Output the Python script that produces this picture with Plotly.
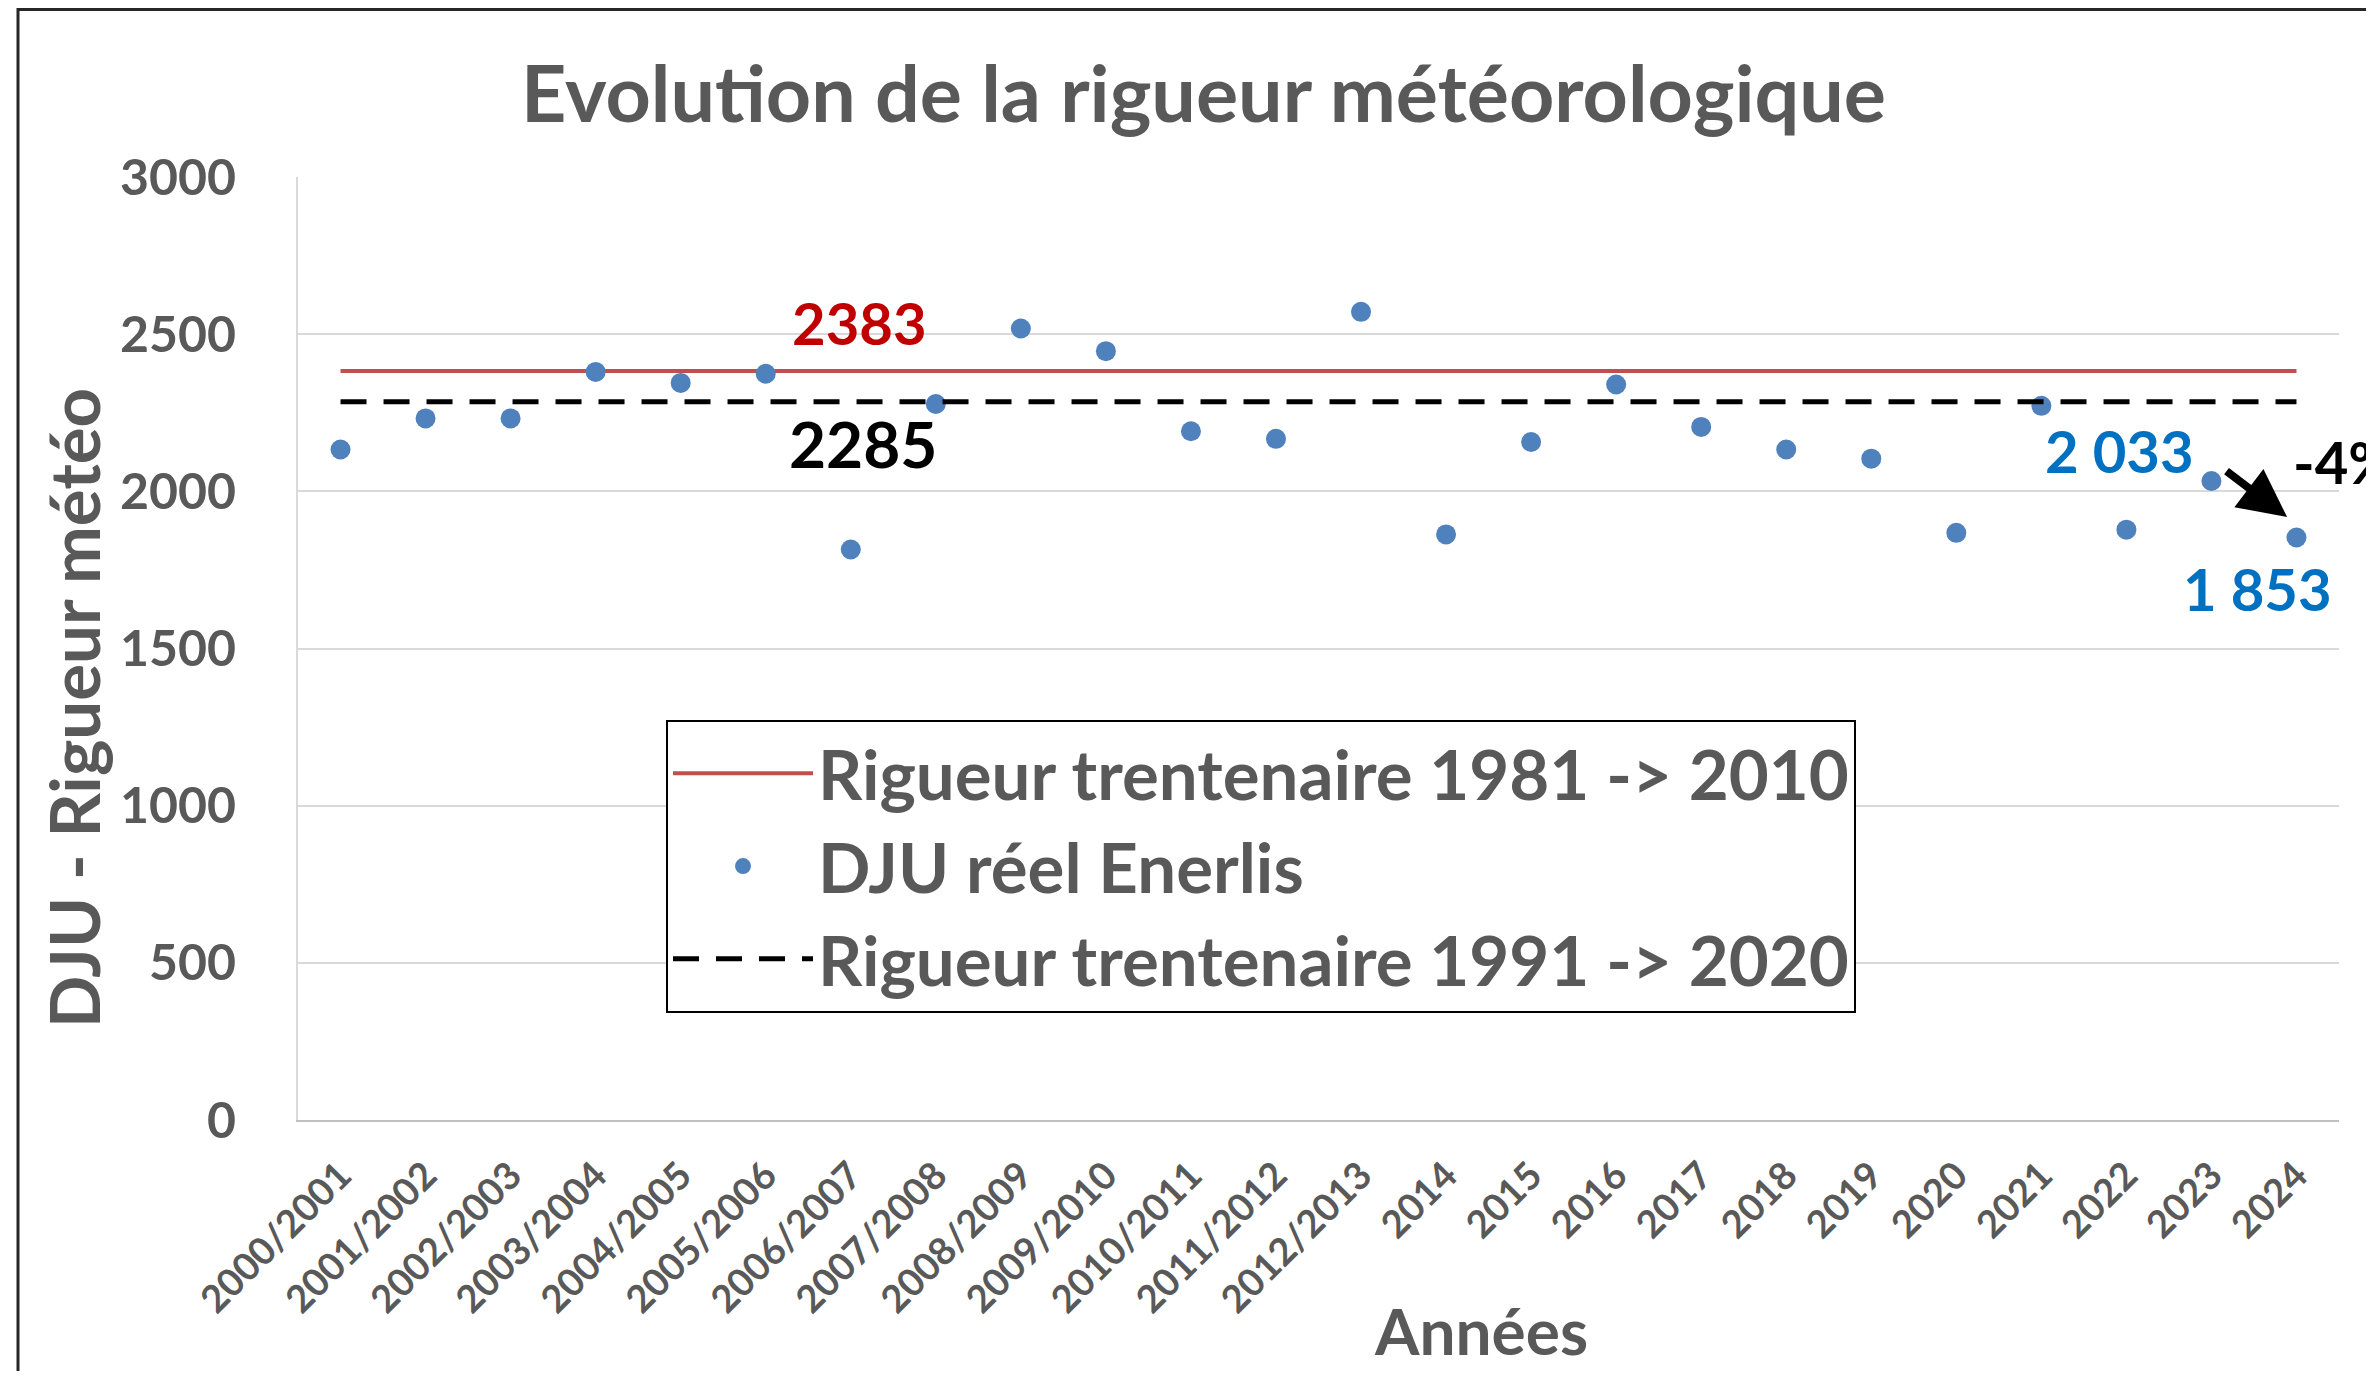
import plotly.graph_objects as go

# ---- data ----
categories = ["2000/2001", "2001/2002", "2002/2003", "2003/2004", "2004/2005", "2005/2006",
              "2006/2007", "2007/2008", "2008/2009", "2009/2010", "2010/2011", "2011/2012",
              "2012/2013", "2014", "2015", "2016", "2017", "2018", "2019", "2020", "2021",
              "2022", "2023", "2024"]
dju_reel = [2133, 2232, 2232, 2380, 2345, 2374, 1815, 2278, 2518, 2446, 2191, 2167,
            2571, 1863, 2157, 2340, 2205, 2133, 2104, 1868, 2272, 1878, 2033, 1853]
ref_1981_2010 = 2383
ref_1991_2020 = 2285
y_ticks = [0, 500, 1000, 1500, 2000, 2500, 3000]
label_2023 = "2 033"
label_2024 = "1 853"
variation = "-4%"

GREY = "#595959"
FONT = "Lato"
W, H = 2358, 1363
L, R, T, B = 290, 27, 169, 251

fig = go.Figure()
fig.add_trace(go.Scatter(
    x=categories, y=[ref_1981_2010] * len(categories), mode="lines",
    name="Rigueur trentenaire 1981 -> 2010",
    line=dict(color="#c0504d", width=4)))
fig.add_trace(go.Scatter(
    x=categories, y=dju_reel, mode="markers", name="DJU réel Enerlis",
    marker=dict(color="#4f81bd", size=20)))
fig.add_trace(go.Scatter(
    x=categories, y=[ref_1991_2020] * len(categories), mode="lines",
    name="Rigueur trentenaire 1991 -> 2020",
    line=dict(color="#000000", width=5, dash="26px,17px")))

bold = dict(family=FONT, weight="bold")

fig.update_layout(
    width=W, height=H,
    margin=dict(l=L, r=R, t=T, b=B, pad=0),
    paper_bgcolor="white", plot_bgcolor="white",
    title=dict(text="Evolution de la rigueur météorologique",
               x=0.507, xref="container", xanchor="center",
               y=1 - 86 / H, yref="container", yanchor="middle",
               font=dict(size=79, color=GREY, **bold)),
    xaxis=dict(type="category", range=[-0.5, len(categories) - 0.5],
               showgrid=False, showline=True, linecolor="#bfbfbf", linewidth=2,
               tickangle=-45, ticks="outside", ticklen=16, tickcolor="rgba(0,0,0,0)",
               tickfont=dict(size=38, color=GREY, **bold), zeroline=False),
    yaxis=dict(range=[0, 3000], tickvals=y_ticks, showgrid=True, gridcolor="#d9d9d9",
               gridwidth=2, showline=True, linecolor="#d9d9d9", linewidth=2,
               ticks="outside", ticklen=50, tickcolor="rgba(0,0,0,0)",
               tickfont=dict(size=50, color=GREY, **bold), zeroline=False),
    legend=dict(x=(658 - L) / (W - L - R), y=(H - B - 712) / (H - T - B),
                xanchor="left", yanchor="top",
                bgcolor="white", bordercolor="#000000", borderwidth=2,
                font=dict(size=69, color=GREY, **bold), itemwidth=140,
                tracegroupgap=0),
    showlegend=True,
)

pw, ph = W - L - R, H - T - B
anns = [
    dict(text="DJU - Rigueur météo", xref="paper", yref="paper",
         x=(65 - L) / pw, y=(H - B - 700) / ph, textangle=-90,
         showarrow=False, xanchor="center", yanchor="middle",
         font=dict(size=69, color=GREY, **bold)),
    dict(text="Années", xref="paper", yref="paper",
         x=(1473 - L) / pw, y=(H - B - 1322) / ph,
         showarrow=False, xanchor="center", yanchor="middle",
         font=dict(size=64, color=GREY, **bold)),
    dict(text=str(ref_1981_2010), xref="x", yref="y", x=6.1, y=ref_1981_2010,
         yshift=48, showarrow=False, font=dict(size=58, color="#c00000", **bold)),
    dict(text=str(ref_1991_2020), xref="x", yref="y", x=6.14, y=ref_1991_2020,
         yshift=-42, showarrow=False, font=dict(size=64, color="#000000", **bold)),
    dict(text=label_2023, xref="x", yref="y", x=22, y=dju_reel[22],
         xshift=-92, yshift=30, showarrow=False, font=dict(size=58, color="#0070c0", **bold)),
    dict(text=label_2024, xref="x", yref="y", x=23, y=dju_reel[23],
         xshift=-39, yshift=-51, showarrow=False, font=dict(size=58, color="#0070c0", **bold)),
    dict(text=variation, xref="x", yref="y", x=22.93, y=2094, xanchor="left",
         showarrow=False, font=dict(size=58, color="#000000", **bold)),
    dict(text="", xref="x", yref="y", x=22.89, y=1918, axref="x", ayref="y",
         ax=22.16, ay=2068, showarrow=True, arrowhead=2, arrowsize=1.2,
         arrowwidth=8, arrowcolor="#000000"),
]
fig.update_layout(annotations=anns)

fig.add_shape(type="rect", xref="paper", yref="paper",
              x0=(10 - L) / pw, x1=1.2, y0=-0.5, y1=(H - B - 1.5) / ph,
              line=dict(color="#262626", width=3), fillcolor="rgba(0,0,0,0)", layer="below")

fig.write_html("out.html")
